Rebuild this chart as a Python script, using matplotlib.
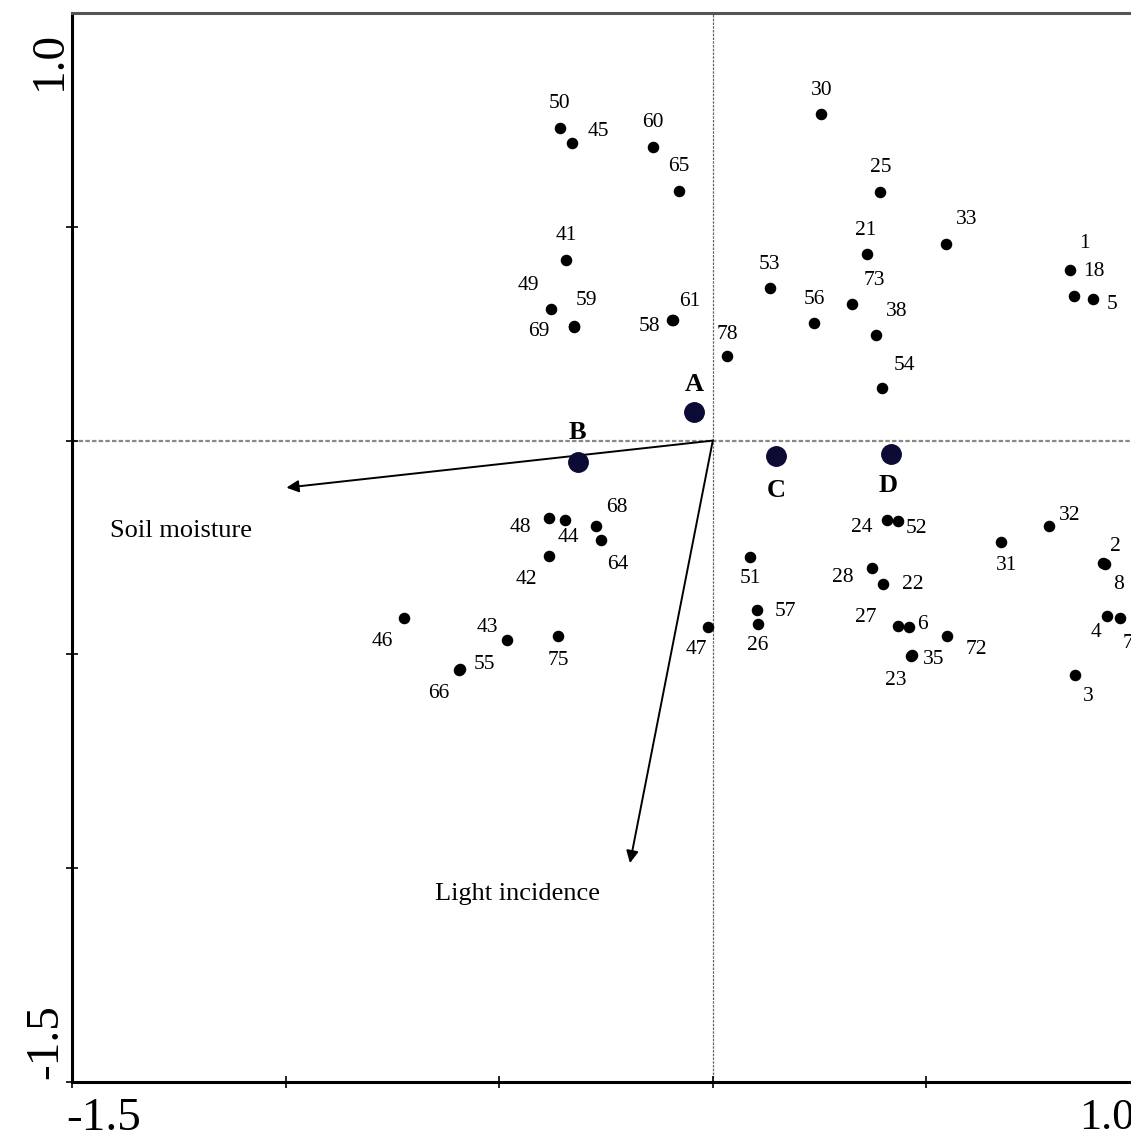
import matplotlib
matplotlib.use("Agg")
import matplotlib.pyplot as plt

plt.rcParams['font.family'] = ['Liberation Serif', 'DejaVu Serif']

# site scores (axis 1, axis 2)
site_labels = ['50', '45', '60', '65', '41', '49', '59', '69', '61', '58',
               '30', '25', '33', '21', '1', '18', '5', '53', '73', '56',
               '38', '78', '54', '48', '44', '68', '64', '42', '46', '43',
               '75', '55', '66', '47', '24', '52', '51', '28', '22', '57',
               '26', '27', '6', '72', '35', '23', '31', '32', '2', '8',
               '4', '7', '3']
site_x = [-0.358, -0.329, -0.140, -0.079, -0.344, -0.379, -0.324, -0.326, -0.094, -0.096,
          0.254, 0.392, 0.547, 0.362, 0.836, 0.845, 0.891, 0.133, 0.326, 0.238,
          0.382, 0.034, 0.396, -0.383, -0.345, -0.273, -0.261, -0.383, -0.722, -0.481,
          -0.362, -0.592, -0.594, -0.012, 0.407, 0.433, 0.088, 0.373, 0.399, 0.104,
          0.105, 0.434, 0.460, 0.549, 0.466, 0.464, 0.674, 0.786, 0.914, 0.918,
          0.923, 0.953, 0.849]
site_y = [0.731, 0.695, 0.686, 0.584, 0.423, 0.308, 0.267, 0.265, 0.283, 0.281,
          0.763, 0.581, 0.460, 0.436, 0.400, 0.339, 0.330, 0.358, 0.319, 0.276,
          0.248, 0.197, 0.124, -0.180, -0.186, -0.199, -0.233, -0.271, -0.415, -0.466,
          -0.457, -0.535, -0.537, -0.437, -0.185, -0.187, -0.272, -0.298, -0.336, -0.396,
          -0.428, -0.434, -0.437, -0.457, -0.501, -0.503, -0.238, -0.199, -0.286, -0.289,
          -0.410, -0.415, -0.548]

# group centroids
group_labels = ['A', 'B', 'C', 'D']
group_x = [-0.044, -0.316, 0.149, 0.417]
group_y = [0.066, -0.049, -0.037, -0.031]

# environmental vectors
env_labels = ['Soil moisture', 'Light incidence']
env_x = [-0.998, -0.194]
env_y = [-0.110, -0.988]

# label offsets in pixels (dx, dy)
site_offsets = {
    '50': (0, 25), '45': (26, 12), '60': (0, 25), '65': (0, 24), '41': (0, 24),
    '49': (-23, 23), '59': (12, 26), '69': (-35, -4), '61': (17, 18), '58': (-22, -6),
    '30': (0, 24), '25': (0, 25), '33': (20, 24), '21': (-2, 24), '1': (15, 26),
    '18': (20, 24), '5': (19, -5), '53': (0, 23), '73': (22, 24), '56': (0, 23),
    '38': (21, 23), '78': (0, 22), '54': (22, 22), '48': (-29, -10), '44': (3, -17),
    '68': (21, 18), '64': (17, -24), '42': (-23, -23), '46': (-22, -23), '43': (-20, 12),
    '75': (0, -24), '55': (25, 5), '66': (-20, -23), '47': (-11, -22), '24': (-25, -8),
    '52': (19, -8), '51': (0, -22), '28': (-29, -9), '22': (29, 0), '57': (28, -2),
    '26': (0, -22), '27': (-32, 9), '6': (13, 3), '72': (29, -13), '35': (22, -5),
    '23': (-15, -25), '31': (6, -23), '32': (21, 10), '2': (12, 16), '8': (14, -20),
    '4': (-11, -17), '7': (8, -25), '3': (13, -22),
}
group_offsets = {'A': (0, 28), 'B': (0, 29), 'C': (0, -34), 'D': (-3, -32)}
env_text_pos = {'Soil moisture': (-1.246, -0.211), 'Light incidence': (-0.457, -1.061)}

fig = plt.figure(figsize=(11.31, 11.41), dpi=100)
ax = fig.add_axes([72 / 1131, 1 - 1082 / 1141, (1140 - 72) / 1131, (1082 - 13) / 1141])
ax.set_xlim(-1.5, 1.0)
ax.set_ylim(-1.5, 1.0)

# zero lines
ax.axhline(0, color='#888888', lw=1.6, ls=(0, (2, 1)), zorder=1)
ax.axvline(0, color='#666666', lw=0.9, ls=(0, (2, 1)), zorder=1)

# environmental arrows
for name, ex, ey in zip(env_labels, env_x, env_y):
    ax.annotate('', xy=(ex, ey), xytext=(0, 0),
                arrowprops=dict(arrowstyle='-|>', color='black', lw=1.4,
                                mutation_scale=18, shrinkA=0, shrinkB=0),
                zorder=2)
    tx, ty = env_text_pos[name]
    ax.text(tx, ty, name, fontsize=19, ha='center', va='center', zorder=3)

# sites
ax.plot(site_x, site_y, 'o', color='black', ms=7.3, zorder=4)
for lab, sx, sy in zip(site_labels, site_x, site_y):
    dx, dy = site_offsets[lab]
    ax.annotate(lab, (sx, sy), xytext=(dx, dy), textcoords='offset pixels',
                fontsize=15.5, ha='center', va='center', zorder=5)

# groups
ax.plot(group_x, group_y, 'o', color='#0b0b35', ms=14, zorder=4)
for lab, gx, gy in zip(group_labels, group_x, group_y):
    dx, dy = group_offsets[lab]
    ax.annotate(lab, (gx, gy), xytext=(dx, dy), textcoords='offset pixels',
                fontsize=19, fontweight='bold', ha='center', va='center', zorder=5)

# axes styling
ax.spines['right'].set_visible(False)
ax.spines['left'].set_linewidth(2.2)
ax.spines['bottom'].set_linewidth(2.2)
ax.spines['top'].set_linewidth(2.2)
ax.spines['top'].set_color('#555555')
ax.set_xticks([-1.5, -1.0, -0.5, 0, 0.5])
ax.set_yticks([-1.5, -1.0, -0.5, 0, 0.5])
ax.tick_params(direction='inout', length=9, width=1.2, labelbottom=False, labelleft=False)

# end labels of the axes
ax.text(-1.426, -1.585, '-1.5', fontsize=34, ha='center', va='center', clip_on=False)
ax.text(0.857, -1.585, '1.0', fontsize=32, ha='left', va='center', clip_on=False)
ax.text(-1.553, 0.890, '1.0', fontsize=34, ha='center', va='center', rotation=90, clip_on=False)
ax.text(-1.560, -1.405, '-1.5', fontsize=34, ha='center', va='center', rotation=90, clip_on=False)

fig.savefig('out.png', dpi=100)
